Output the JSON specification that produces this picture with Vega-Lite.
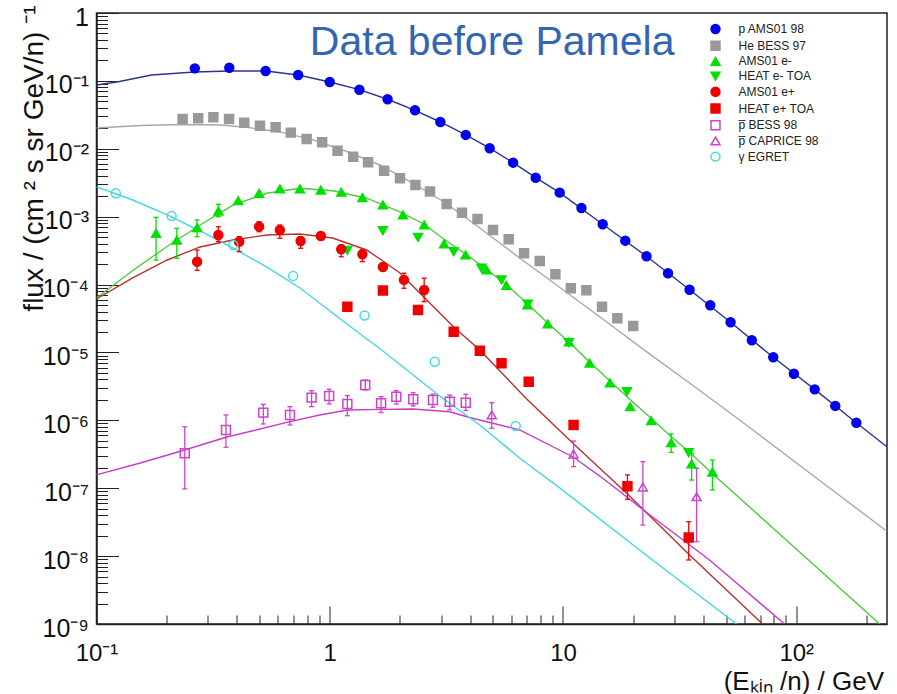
{
  "$schema": "https://vega.github.io/schema/vega-lite/v6.json",
  "width": 790.5,
  "height": 611,
  "autosize": "none",
  "padding": {"left": 96.5, "top": 13, "right": 9.5, "bottom": 70},
  "background": "white",
  "config": {
    "view": {"stroke": "#222222", "strokeWidth": 1.5},
    "font": "Liberation Sans",
    "legend": {
      "orient": "none", "legendX": 613, "legendY": 10, "title": null,
      "labelFont": "Liberation Sans", "labelFontSize": 12, "labelColor": "#222222",
      "symbolStrokeWidth": 1.5, "rowPadding": 0.7, "labelOffset": 17, "symbolOpacity": 1
    }
  },
  "datasets": {
    "pts": [
      {"s": "p AMS01 98", "E": 0.264, "F": 0.153},
      {"s": "p AMS01 98", "E": 0.371, "F": 0.156},
      {"s": "p AMS01 98", "E": 0.531, "F": 0.140},
      {"s": "p AMS01 98", "E": 0.732, "F": 0.122},
      {"s": "p AMS01 98", "E": 1.00, "F": 0.0963},
      {"s": "p AMS01 98", "E": 1.34, "F": 0.0742},
      {"s": "p AMS01 98", "E": 1.77, "F": 0.0536},
      {"s": "p AMS01 98", "E": 2.32, "F": 0.0369},
      {"s": "p AMS01 98", "E": 2.98, "F": 0.0248},
      {"s": "p AMS01 98", "E": 3.83, "F": 0.0160},
      {"s": "p AMS01 98", "E": 4.85, "F": 0.0102},
      {"s": "p AMS01 98", "E": 6.11, "F": 0.00624},
      {"s": "p AMS01 98", "E": 7.64, "F": 0.00375},
      {"s": "p AMS01 98", "E": 9.68, "F": 0.00226},
      {"s": "p AMS01 98", "E": 12.0, "F": 0.00134},
      {"s": "p AMS01 98", "E": 14.8, "F": 7.72e-4},
      {"s": "p AMS01 98", "E": 18.5, "F": 4.43e-4},
      {"s": "p AMS01 98", "E": 22.8, "F": 2.61e-4},
      {"s": "p AMS01 98", "E": 28.2, "F": 1.47e-4},
      {"s": "p AMS01 98", "E": 34.9, "F": 8.40e-5},
      {"s": "p AMS01 98", "E": 42.8, "F": 4.95e-5},
      {"s": "p AMS01 98", "E": 52.3, "F": 2.78e-5},
      {"s": "p AMS01 98", "E": 64.5, "F": 1.51e-5},
      {"s": "p AMS01 98", "E": 79.7, "F": 8.48e-6},
      {"s": "p AMS01 98", "E": 97.7, "F": 4.86e-6},
      {"s": "p AMS01 98", "E": 120, "F": 2.86e-6},
      {"s": "p AMS01 98", "E": 147, "F": 1.63e-6},
      {"s": "p AMS01 98", "E": 181, "F": 9.23e-7},
      {"s": "He BESS 97", "E": 0.234, "F": 0.0275},
      {"s": "He BESS 97", "E": 0.273, "F": 0.0281},
      {"s": "He BESS 97", "E": 0.317, "F": 0.0291},
      {"s": "He BESS 97", "E": 0.370, "F": 0.0275},
      {"s": "He BESS 97", "E": 0.430, "F": 0.0242},
      {"s": "He BESS 97", "E": 0.502, "F": 0.0219},
      {"s": "He BESS 97", "E": 0.586, "F": 0.0207},
      {"s": "He BESS 97", "E": 0.681, "F": 0.0173},
      {"s": "He BESS 97", "E": 0.796, "F": 0.0139},
      {"s": "He BESS 97", "E": 0.928, "F": 0.0125},
      {"s": "He BESS 97", "E": 1.08, "F": 0.00937},
      {"s": "He BESS 97", "E": 1.26, "F": 0.00764},
      {"s": "He BESS 97", "E": 1.46, "F": 0.00632},
      {"s": "He BESS 97", "E": 1.71, "F": 0.00476},
      {"s": "He BESS 97", "E": 2.00, "F": 0.00368},
      {"s": "He BESS 97", "E": 2.33, "F": 0.00293},
      {"s": "He BESS 97", "E": 2.69, "F": 0.00235},
      {"s": "He BESS 97", "E": 3.17, "F": 0.00154},
      {"s": "He BESS 97", "E": 3.69, "F": 0.00114},
      {"s": "He BESS 97", "E": 4.30, "F": 9.24e-4},
      {"s": "He BESS 97", "E": 5.01, "F": 6.36e-4},
      {"s": "He BESS 97", "E": 5.85, "F": 4.64e-4},
      {"s": "He BESS 97", "E": 6.81, "F": 2.89e-4},
      {"s": "He BESS 97", "E": 7.95, "F": 2.22e-4},
      {"s": "He BESS 97", "E": 9.28, "F": 1.42e-4},
      {"s": "He BESS 97", "E": 10.8, "F": 8.81e-5},
      {"s": "He BESS 97", "E": 12.6, "F": 8.23e-5},
      {"s": "He BESS 97", "E": 14.7, "F": 4.72e-5},
      {"s": "He BESS 97", "E": 17.1, "F": 3.18e-5},
      {"s": "He BESS 97", "E": 20.0, "F": 2.45e-5},
      {"s": "AMS01 e-", "E": 0.180, "F": 5.69e-4, "lo": 2.30e-4, "hi": 9.79e-4},
      {"s": "AMS01 e-", "E": 0.221, "F": 4.53e-4, "lo": 2.44e-4, "hi": 6.74e-4},
      {"s": "AMS01 e-", "E": 0.270, "F": 6.88e-4, "lo": 5.07e-4, "hi": 8.93e-4},
      {"s": "AMS01 e-", "E": 0.333, "F": 1.21e-3, "lo": 9.99e-4, "hi": 1.52e-3},
      {"s": "AMS01 e-", "E": 0.405, "F": 1.72e-3},
      {"s": "AMS01 e-", "E": 0.498, "F": 2.21e-3},
      {"s": "AMS01 e-", "E": 0.611, "F": 2.56e-3},
      {"s": "AMS01 e-", "E": 0.745, "F": 2.56e-3},
      {"s": "AMS01 e-", "E": 0.916, "F": 2.47e-3},
      {"s": "AMS01 e-", "E": 1.12, "F": 2.29e-3},
      {"s": "AMS01 e-", "E": 1.38, "F": 1.90e-3},
      {"s": "AMS01 e-", "E": 1.69, "F": 1.49e-3},
      {"s": "AMS01 e-", "E": 2.06, "F": 1.06e-3},
      {"s": "AMS01 e-", "E": 2.54, "F": 7.54e-4},
      {"s": "AMS01 e-", "E": 3.09, "F": 3.96e-4},
      {"s": "AMS01 e-", "E": 3.82, "F": 2.73e-4},
      {"s": "AMS01 e-", "E": 4.70, "F": 1.64e-4},
      {"s": "AMS01 e-", "E": 5.72, "F": 9.69e-5},
      {"s": "AMS01 e-", "E": 7.04, "F": 5.00e-5},
      {"s": "AMS01 e-", "E": 8.60, "F": 2.63e-5},
      {"s": "AMS01 e-", "E": 10.6, "F": 1.43e-5},
      {"s": "AMS01 e-", "E": 13.0, "F": 6.99e-6},
      {"s": "AMS01 e-", "E": 15.9, "F": 3.55e-6},
      {"s": "AMS01 e-", "E": 19.4, "F": 1.59e-6},
      {"s": "AMS01 e-", "E": 23.9, "F": 9.94e-7},
      {"s": "AMS01 e-", "E": 29.1, "F": 4.69e-7, "lo": 3.37e-7, "hi": 6.29e-7},
      {"s": "AMS01 e-", "E": 35.6, "F": 2.28e-7, "lo": 1.32e-7, "hi": 3.27e-7},
      {"s": "AMS01 e-", "E": 43.7, "F": 1.73e-7, "lo": 9.42e-8, "hi": 2.60e-7},
      {"s": "HEAT e- TOA", "E": 1.19, "F": 3.18e-4},
      {"s": "HEAT e- TOA", "E": 1.69, "F": 6.21e-4},
      {"s": "HEAT e- TOA", "E": 2.39, "F": 4.97e-4},
      {"s": "HEAT e- TOA", "E": 3.40, "F": 3.05e-4},
      {"s": "HEAT e- TOA", "E": 4.47, "F": 1.74e-4},
      {"s": "HEAT e- TOA", "E": 5.45, "F": 1.17e-4},
      {"s": "HEAT e- TOA", "E": 7.06, "F": 5.17e-5},
      {"s": "HEAT e- TOA", "E": 10.6, "F": 1.40e-5},
      {"s": "HEAT e- TOA", "E": 18.8, "F": 2.64e-6},
      {"s": "HEAT e- TOA", "E": 34.6, "F": 3.34e-7},
      {"s": "AMS01 e+", "E": 0.270, "F": 2.17e-4, "lo": 1.62e-4, "hi": 3.23e-4},
      {"s": "AMS01 e+", "E": 0.333, "F": 5.37e-4, "lo": 4.28e-4, "hi": 7.12e-4},
      {"s": "AMS01 e+", "E": 0.409, "F": 4.28e-4, "lo": 3.05e-4, "hi": 5.07e-4},
      {"s": "AMS01 e+", "E": 0.498, "F": 7.12e-4, "lo": 6.00e-4, "hi": 8.43e-4},
      {"s": "AMS01 e+", "E": 0.611, "F": 6.36e-4, "lo": 4.80e-4, "hi": 7.54e-4},
      {"s": "AMS01 e+", "E": 0.750, "F": 4.38e-4, "lo": 3.42e-4, "hi": 5.07e-4},
      {"s": "AMS01 e+", "E": 0.916, "F": 5.19e-4},
      {"s": "AMS01 e+", "E": 1.12, "F": 3.31e-4, "lo": 2.57e-4, "hi": 3.83e-4},
      {"s": "AMS01 e+", "E": 1.38, "F": 2.80e-4, "lo": 2.17e-4, "hi": 3.23e-4},
      {"s": "AMS01 e+", "E": 1.69, "F": 1.81e-4},
      {"s": "AMS01 e+", "E": 2.08, "F": 1.17e-4, "lo": 8.81e-5, "hi": 1.47e-4},
      {"s": "AMS01 e+", "E": 2.54, "F": 8.32e-5, "lo": 5.59e-5, "hi": 1.24e-4},
      {"s": "HEAT e+ TOA", "E": 1.19, "F": 4.72e-5},
      {"s": "HEAT e+ TOA", "E": 1.69, "F": 8.18e-5},
      {"s": "HEAT e+ TOA", "E": 2.39, "F": 4.22e-5},
      {"s": "HEAT e+ TOA", "E": 3.40, "F": 2.02e-5},
      {"s": "HEAT e+ TOA", "E": 4.40, "F": 1.06e-5},
      {"s": "HEAT e+ TOA", "E": 5.45, "F": 6.92e-6},
      {"s": "HEAT e+ TOA", "E": 7.13, "F": 3.71e-6},
      {"s": "HEAT e+ TOA", "E": 11.1, "F": 8.54e-7},
      {"s": "HEAT e+ TOA", "E": 18.9, "F": 1.07e-7, "lo": 6.87e-8, "hi": 1.57e-7},
      {"s": "HEAT e+ TOA", "E": 34.6, "F": 1.88e-8, "lo": 8.77e-9, "hi": 3.21e-8},
      {"s": "p̅ BESS 98", "E": 0.239, "F": 3.27e-7, "lo": 9.78e-8, "hi": 8.06e-7},
      {"s": "p̅ BESS 98", "E": 0.359, "F": 7.21e-7, "lo": 4.01e-7, "hi": 1.20e-6},
      {"s": "p̅ BESS 98", "E": 0.519, "F": 1.30e-6, "lo": 8.83e-7, "hi": 1.72e-6},
      {"s": "p̅ BESS 98", "E": 0.675, "F": 1.20e-6, "lo": 8.54e-7, "hi": 1.59e-6},
      {"s": "p̅ BESS 98", "E": 0.836, "F": 2.16e-6, "lo": 1.59e-6, "hi": 2.73e-6},
      {"s": "p̅ BESS 98", "E": 0.994, "F": 2.28e-6, "lo": 1.74e-6, "hi": 2.87e-6},
      {"s": "p̅ BESS 98", "E": 1.19, "F": 1.74e-6, "lo": 1.17e-6, "hi": 2.31e-6},
      {"s": "p̅ BESS 98", "E": 1.42, "F": 3.32e-6, "lo": 2.80e-6, "hi": 3.93e-6},
      {"s": "p̅ BESS 98", "E": 1.66, "F": 1.78e-6, "lo": 1.30e-6, "hi": 2.23e-6},
      {"s": "p̅ BESS 98", "E": 1.93, "F": 2.23e-6, "lo": 1.74e-6, "hi": 2.73e-6},
      {"s": "p̅ BESS 98", "E": 2.28, "F": 2.04e-6, "lo": 1.63e-6, "hi": 2.55e-6},
      {"s": "p̅ BESS 98", "E": 2.77, "F": 1.99e-6, "lo": 1.56e-6, "hi": 2.44e-6},
      {"s": "p̅ BESS 98", "E": 3.27, "F": 1.88e-6, "lo": 1.43e-6, "hi": 2.36e-6},
      {"s": "p̅ BESS 98", "E": 3.83, "F": 1.82e-6, "lo": 1.40e-6, "hi": 2.42e-6},
      {"s": "p̅ CAPRICE 98", "E": 4.95, "F": 1.20e-6, "lo": 7.64e-7, "hi": 1.82e-6},
      {"s": "p̅ CAPRICE 98", "E": 11.1, "F": 3.19e-7, "lo": 2.08e-7, "hi": 4.96e-7},
      {"s": "p̅ CAPRICE 98", "E": 22.0, "F": 1.04e-7, "lo": 2.87e-8, "hi": 2.46e-7},
      {"s": "p̅ CAPRICE 98", "E": 37.4, "F": 7.50e-8, "lo": 1.63e-8, "hi": 1.97e-7},
      {"s": "γ EGRET", "E": 0.121, "F": 2.21e-3},
      {"s": "γ EGRET", "E": 0.210, "F": 1.02e-3},
      {"s": "γ EGRET", "E": 0.386, "F": 3.83e-4},
      {"s": "γ EGRET", "E": 0.697, "F": 1.34e-4},
      {"s": "γ EGRET", "E": 1.41, "F": 3.50e-5},
      {"s": "γ EGRET", "E": 2.82, "F": 7.31e-6},
      {"s": "γ EGRET", "E": 6.27, "F": 8.25e-7}
    ],
    "lines": [
      {"c": "Lp", "E": 0.1, "F": 0.0870}, {"c": "Lp", "E": 0.124, "F": 0.0973}, {"c": "Lp", "E": 0.172, "F": 0.122},
      {"c": "Lp", "E": 0.264, "F": 0.135}, {"c": "Lp", "E": 0.370, "F": 0.140}, {"c": "Lp", "E": 0.531, "F": 0.140},
      {"c": "Lp", "E": 0.732, "F": 0.122}, {"c": "Lp", "E": 1.00, "F": 0.0963}, {"c": "Lp", "E": 1.34, "F": 0.0742},
      {"c": "Lp", "E": 1.77, "F": 0.0536}, {"c": "Lp", "E": 2.32, "F": 0.0369}, {"c": "Lp", "E": 2.98, "F": 0.0248},
      {"c": "Lp", "E": 3.83, "F": 0.0160}, {"c": "Lp", "E": 4.85, "F": 0.0102}, {"c": "Lp", "E": 6.11, "F": 0.00624},
      {"c": "Lp", "E": 7.64, "F": 0.00375}, {"c": "Lp", "E": 9.68, "F": 0.00226}, {"c": "Lp", "E": 14.8, "F": 7.72e-4},
      {"c": "Lp", "E": 22.8, "F": 2.61e-4}, {"c": "Lp", "E": 34.9, "F": 8.40e-5}, {"c": "Lp", "E": 52.3, "F": 2.78e-5},
      {"c": "Lp", "E": 79.7, "F": 8.48e-6}, {"c": "Lp", "E": 120, "F": 2.86e-6}, {"c": "Lp", "E": 181, "F": 9.23e-7},
      {"c": "Lp", "E": 244, "F": 4.12e-7},
      {"c": "LHe", "E": 0.1, "F": 0.0202}, {"c": "LHe", "E": 0.154, "F": 0.0220}, {"c": "LHe", "E": 0.228, "F": 0.0228},
      {"c": "LHe", "E": 0.338, "F": 0.0224}, {"c": "LHe", "E": 0.441, "F": 0.0207}, {"c": "LHe", "E": 0.611, "F": 0.0177},
      {"c": "LHe", "E": 0.847, "F": 0.0135}, {"c": "LHe", "E": 1.17, "F": 0.00927}, {"c": "LHe", "E": 1.64, "F": 0.00577},
      {"c": "LHe", "E": 2.27, "F": 0.00313}, {"c": "LHe", "E": 3.14, "F": 0.00159}, {"c": "LHe", "E": 4.40, "F": 6.81e-4},
      {"c": "LHe", "E": 6.52, "F": 2.46e-4}, {"c": "LHe", "E": 9.97, "F": 8.46e-5}, {"c": "LHe", "E": 15.1, "F": 2.96e-5},
      {"c": "LHe", "E": 22.8, "F": 1.03e-5}, {"c": "LHe", "E": 34.9, "F": 3.55e-6}, {"c": "LHe", "E": 57.2, "F": 1.01e-6},
      {"c": "LHe", "E": 126, "F": 1.30e-7}, {"c": "LHe", "E": 244, "F": 2.34e-8},
      {"c": "Le-", "E": 0.1, "F": 6.34e-5}, {"c": "Le-", "E": 0.144, "F": 1.64e-4}, {"c": "Le-", "E": 0.200, "F": 3.61e-4},
      {"c": "Le-", "E": 0.278, "F": 7.54e-4}, {"c": "Le-", "E": 0.386, "F": 1.49e-3}, {"c": "Le-", "E": 0.536, "F": 2.21e-3},
      {"c": "Le-", "E": 0.745, "F": 2.62e-3}, {"c": "Le-", "E": 1.03, "F": 2.41e-3}, {"c": "Le-", "E": 1.44, "F": 1.87e-3},
      {"c": "Le-", "E": 2.00, "F": 1.18e-3}, {"c": "Le-", "E": 2.53, "F": 7.80e-4}, {"c": "Le-", "E": 3.08, "F": 4.69e-4},
      {"c": "Le-", "E": 3.83, "F": 2.82e-4}, {"c": "Le-", "E": 4.71, "F": 1.67e-4}, {"c": "Le-", "E": 5.74, "F": 9.85e-5},
      {"c": "Le-", "E": 7.06, "F": 5.17e-5}, {"c": "Le-", "E": 8.60, "F": 2.72e-5}, {"c": "Le-", "E": 10.6, "F": 1.43e-5},
      {"c": "Le-", "E": 13.0, "F": 7.23e-6}, {"c": "Le-", "E": 15.9, "F": 3.80e-6}, {"c": "Le-", "E": 19.5, "F": 1.99e-6},
      {"c": "Le-", "E": 23.8, "F": 1.08e-6}, {"c": "Le-", "E": 28.9, "F": 5.88e-7}, {"c": "Le-", "E": 35.6, "F": 3.19e-7},
      {"c": "Le-", "E": 43.4, "F": 1.68e-7}, {"c": "Le-", "E": 84.8, "F": 2.12e-8}, {"c": "Le-", "E": 228, "F": 1e-9},
      {"c": "Le+", "E": 0.1, "F": 6.13e-5}, {"c": "Le+", "E": 0.143, "F": 1.25e-4}, {"c": "Le+", "E": 0.201, "F": 2.30e-4},
      {"c": "Le+", "E": 0.278, "F": 3.58e-4}, {"c": "Le+", "E": 0.384, "F": 4.53e-4}, {"c": "Le+", "E": 0.538, "F": 5.37e-4},
      {"c": "Le+", "E": 0.745, "F": 5.56e-4}, {"c": "Le+", "E": 1.03, "F": 4.85e-4}, {"c": "Le+", "E": 1.44, "F": 3.23e-4},
      {"c": "Le+", "E": 1.69, "F": 2.22e-4}, {"c": "Le+", "E": 2.00, "F": 1.48e-4}, {"c": "Le+", "E": 2.53, "F": 6.56e-5},
      {"c": "Le+", "E": 3.40, "F": 2.37e-5}, {"c": "Le+", "E": 4.40, "F": 1.09e-5}, {"c": "Le+", "E": 6.99, "F": 2.06e-6},
      {"c": "Le+", "E": 11.0, "F": 4.64e-7}, {"c": "Le+", "E": 18.9, "F": 8.22e-8}, {"c": "Le+", "E": 34.9, "F": 1.04e-8},
      {"c": "Le+", "E": 71.7, "F": 1e-9},
      {"c": "Lpb", "E": 0.1, "F": 1.57e-7}, {"c": "Lpb", "E": 0.154, "F": 2.35e-7}, {"c": "Lpb", "E": 0.239, "F": 3.66e-7},
      {"c": "Lpb", "E": 0.359, "F": 5.63e-7}, {"c": "Lpb", "E": 0.502, "F": 7.46e-7}, {"c": "Lpb", "E": 0.675, "F": 9.55e-7},
      {"c": "Lpb", "E": 0.907, "F": 1.20e-6}, {"c": "Lpb", "E": 1.19, "F": 1.42e-6}, {"c": "Lpb", "E": 1.66, "F": 1.45e-6},
      {"c": "Lpb", "E": 2.27, "F": 1.47e-6}, {"c": "Lpb", "E": 3.27, "F": 1.34e-6}, {"c": "Lpb", "E": 3.87, "F": 1.13e-6},
      {"c": "Lpb", "E": 4.40, "F": 1.01e-6}, {"c": "Lpb", "E": 6.52, "F": 7.21e-7}, {"c": "Lpb", "E": 11.0, "F": 2.91e-7},
      {"c": "Lpb", "E": 14.4, "F": 1.51e-7}, {"c": "Lpb", "E": 22.4, "F": 4.62e-8}, {"c": "Lpb", "E": 42.5, "F": 8.77e-9},
      {"c": "Lpb", "E": 89.1, "F": 1e-9},
      {"c": "Lg", "E": 0.1, "F": 2.74e-3}, {"c": "Lg", "E": 0.143, "F": 1.76e-3}, {"c": "Lg", "E": 0.201, "F": 1.06e-3},
      {"c": "Lg", "E": 0.278, "F": 6.15e-4}, {"c": "Lg", "E": 0.384, "F": 3.46e-4}, {"c": "Lg", "E": 0.538, "F": 1.81e-4},
      {"c": "Lg", "E": 0.745, "F": 8.90e-5}, {"c": "Lg", "E": 1.14, "F": 2.91e-5}, {"c": "Lg", "E": 1.69, "F": 1.05e-5},
      {"c": "Lg", "E": 2.96, "F": 2.28e-6}, {"c": "Lg", "E": 4.40, "F": 8.54e-7}, {"c": "Lg", "E": 6.52, "F": 2.79e-7},
      {"c": "Lg", "E": 9.68, "F": 1.01e-7}, {"c": "Lg", "E": 24.2, "F": 8.77e-9}, {"c": "Lg", "E": 55.5, "F": 1e-9}
    ],
    "labels": [
      {"t": "Data before Pamela", "E": 4.97, "F": 0.24}
    ]
  },
  "layer": [
    {
      "data": {"name": "lines"},
      "mark": {"type": "line", "clip": true, "strokeWidth": 1.4},
      "encoding": {
        "x": {
          "field": "E", "type": "quantitative", "title": "(Eₖᵢₙ /n) / GeV",
          "scale": {"type": "log", "domain": [0.1, 245], "nice": false},
          "axis": {
            "grid": false, "tickCount": 20, "labelOverlap": false, "labelFlush": false,
            "labelExpr": "abs(log(datum.value)/LN10-round(log(datum.value)/LN10))>0.01 ? '' : ['10⁻¹','1','10','10²'][round(log(datum.value)/LN10)+1]",
            "labelFont": "Liberation Sans", "labelFontSize": 24, "labelColor": "#111111", "labelPadding": 35,
            "tickColor": "#222222", "tickWidth": 1,
            "tickSize": {"condition": {"test": "abs(log(datum.value)/LN10-round(log(datum.value)/LN10))<0.01", "value": -18}, "value": -9},
            "domainColor": "#222222", "domainWidth": 1.5,
            "titleFont": "Liberation Sans", "titleFontSize": 26, "titleFontWeight": "normal", "titleColor": "#111111",
            "titleAnchor": "end", "titleAlign": "right", "titleBaseline": "middle", "titleX": 787, "titleY": 57
          }
        },
        "y": {
          "field": "F", "type": "quantitative", "title": "flux / (cm ² s sr GeV/n) ⁻¹",
          "scale": {"type": "log", "domain": [1e-9, 1], "nice": false},
          "axis": {
            "grid": false, "tickCount": 20, "labelOverlap": false, "labelFlush": false,
            "labelExpr": "abs(log(datum.value)/LN10-round(log(datum.value)/LN10))>0.01 ? '' : ['1','10⁻¹','10⁻²','10⁻³','10⁻⁴','10⁻⁵','10⁻⁶','10⁻⁷','10⁻⁸','10⁻⁹'][-round(log(datum.value)/LN10)]",
            "labelFont": "Liberation Sans", "labelFontSize": 25, "labelColor": "#111111", "labelPadding": 30, "labelOffset": 4,
            "tickColor": "#222222", "tickWidth": 1,
            "tickSize": {"condition": {"test": "abs(log(datum.value)/LN10-round(log(datum.value)/LN10))<0.01", "value": -22}, "value": -11},
            "domainColor": "#222222", "domainWidth": 1.5,
            "titleFont": "Liberation Sans", "titleFontSize": 28, "titleFontWeight": "normal", "titleColor": "#111111",
            "titleAnchor": "end", "titleAlign": "right", "titleBaseline": "middle", "titleAngle": 270, "titleX": -62, "titleY": -8
          }
        },
        "color": {
          "field": "c", "type": "nominal", "legend": null,
          "scale": {
            "domain": ["Lp", "LHe", "Le-", "Le+", "Lpb", "Lg", "AMS01 e-", "AMS01 e+", "HEAT e+ TOA", "p̅ BESS 98", "p̅ CAPRICE 98"],
            "range": ["#2a3590", "#a8a8a8", "#4ccc3c", "#b83030", "#c83cc8", "#40d8e0", "#00e000", "#ee0000", "#ee0000", "#cc44cc", "#cc44cc"]
          }
        }
      }
    },
    {
      "data": {"name": "pts"},
      "transform": [{"filter": "isValid(datum.lo)"}],
      "mark": {"type": "rule", "strokeWidth": 1.3},
      "encoding": {
        "x": {"field": "E", "type": "quantitative", "title": "(Eₖᵢₙ /n) / GeV"},
        "y": {"field": "lo", "type": "quantitative", "title": "flux / (cm ² s sr GeV/n) ⁻¹"},
        "y2": {"field": "hi"},
        "color": {"field": "s", "type": "nominal", "legend": null}
      }
    },
    {
      "data": {"name": "pts"},
      "transform": [{"filter": "isValid(datum.lo)"}],
      "mark": {"type": "tick", "orient": "horizontal", "size": 5, "thickness": 1.3, "opacity": 1},
      "encoding": {
        "x": {"field": "E", "type": "quantitative", "title": "(Eₖᵢₙ /n) / GeV"},
        "y": {"field": "lo", "type": "quantitative", "title": "flux / (cm ² s sr GeV/n) ⁻¹"},
        "color": {"field": "s", "type": "nominal", "legend": null}
      }
    },
    {
      "data": {"name": "pts"},
      "transform": [{"filter": "isValid(datum.hi)"}],
      "mark": {"type": "tick", "orient": "horizontal", "size": 5, "thickness": 1.3, "opacity": 1},
      "encoding": {
        "x": {"field": "E", "type": "quantitative", "title": "(Eₖᵢₙ /n) / GeV"},
        "y": {"field": "hi", "type": "quantitative", "title": "flux / (cm ² s sr GeV/n) ⁻¹"},
        "color": {"field": "s", "type": "nominal", "legend": null}
      }
    },
    {
      "data": {"name": "pts"},
      "mark": {"type": "point", "filled": true, "opacity": 1, "strokeWidth": 1.5},
      "encoding": {
        "x": {"field": "E", "type": "quantitative", "title": "(Eₖᵢₙ /n) / GeV"},
        "y": {"field": "F", "type": "quantitative", "title": "flux / (cm ² s sr GeV/n) ⁻¹"},
        "shape": {
          "field": "s", "type": "nominal",
          "scale": {
            "domain": ["p AMS01 98", "He BESS 97", "AMS01 e-", "HEAT e- TOA", "AMS01 e+", "HEAT e+ TOA", "p̅ BESS 98", "p̅ CAPRICE 98", "γ EGRET"],
            "range": ["circle", "square", "triangle-up", "triangle-down", "circle", "square", "square", "triangle-up", "circle"]
          }
        },
        "size": {
          "field": "s", "type": "nominal",
          "scale": {
            "domain": ["p AMS01 98", "He BESS 97", "AMS01 e-", "HEAT e- TOA", "AMS01 e+", "HEAT e+ TOA", "p̅ BESS 98", "p̅ CAPRICE 98", "γ EGRET"],
            "range": [80, 80, 115, 115, 85, 85, 90, 120, 95]
          }
        },
        "fill": {
          "field": "s", "type": "nominal",
          "scale": {
            "domain": ["p AMS01 98", "He BESS 97", "AMS01 e-", "HEAT e- TOA", "AMS01 e+", "HEAT e+ TOA", "p̅ BESS 98", "p̅ CAPRICE 98", "γ EGRET"],
            "range": ["#0000ee", "#999999", "#00e000", "#00e000", "#ee0000", "#ee0000", "transparent", "transparent", "transparent"]
          }
        },
        "stroke": {
          "field": "s", "type": "nominal",
          "scale": {
            "domain": ["p AMS01 98", "He BESS 97", "AMS01 e-", "HEAT e- TOA", "AMS01 e+", "HEAT e+ TOA", "p̅ BESS 98", "p̅ CAPRICE 98", "γ EGRET"],
            "range": ["#0000ee", "#999999", "#00e000", "#00e000", "#ee0000", "#ee0000", "#cc44cc", "#cc44cc", "#44dddd"]
          }
        }
      }
    },
    {
      "data": {"name": "labels"},
      "mark": {"type": "text", "align": "center", "baseline": "alphabetic", "font": "Liberation Sans", "fontSize": 41, "color": "#3465b0"},
      "encoding": {
        "x": {"field": "E", "type": "quantitative", "title": "(Eₖᵢₙ /n) / GeV"},
        "y": {"field": "F", "type": "quantitative", "title": "flux / (cm ² s sr GeV/n) ⁻¹"},
        "text": {"field": "t"}
      }
    }
  ]
}
